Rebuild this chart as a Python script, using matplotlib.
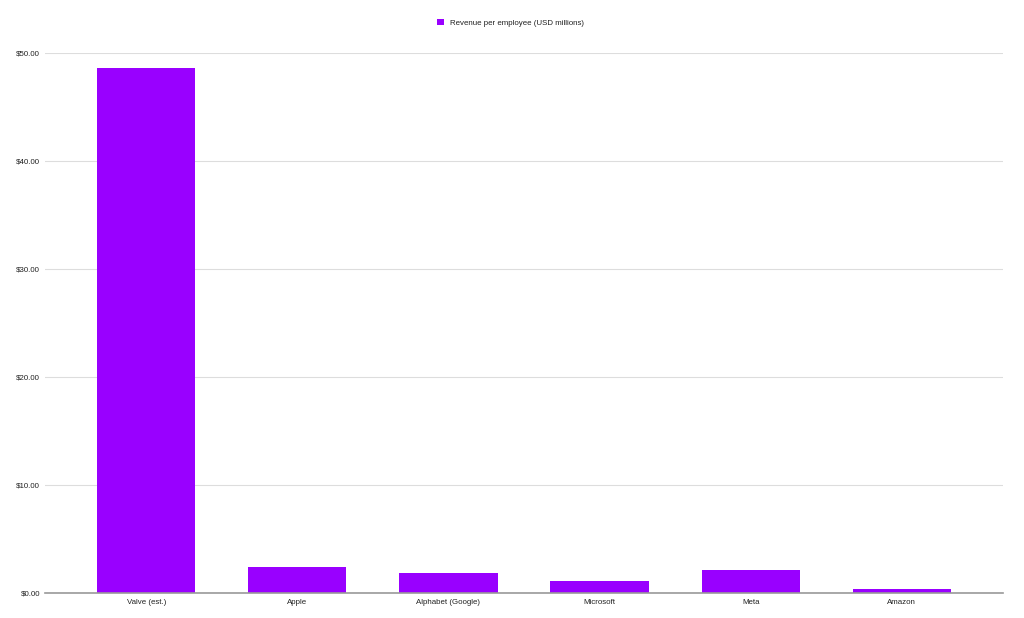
import matplotlib
matplotlib.use('Agg')
import matplotlib.pyplot as plt
from matplotlib.ticker import FuncFormatter

# dados
companies = ['Valve (est.)', 'Apple', 'Alphabet (Google)', 'Microsoft', 'Meta', 'Amazon']
revenue_per_employee = [48.6, 2.38, 1.88, 1.08, 2.16, 0.40]
series_name = 'Revenue per employee (USD millions)'
y_ticks = [0, 10, 20, 30, 40, 50]

plt.rcParams['font.family'] = ['Liberation Sans', 'DejaVu Sans']

fig = plt.figure(figsize=(10.24, 6.18), dpi=100)
ax = fig.add_axes([0.044, 0.0405, 0.9355, 0.8737])

x = range(len(companies))
ax.bar(x, revenue_per_employee, width=0.65, color='#9900ff', label=series_name, zorder=3)

ax.set_xlim(-0.67, len(companies) - 0.33)
ax.set_ylim(0, 50)
ax.set_yticks(y_ticks)
ax.yaxis.set_major_formatter(FuncFormatter(lambda v, p: '${:.2f}'.format(v)))
ax.set_xticks(list(x))
ax.set_xticklabels(companies)

ax.grid(axis='y', color='#dddddd', linewidth=0.8, zorder=0)
for s in ['top', 'right', 'left']:
    ax.spines[s].set_visible(False)
ax.spines['bottom'].set_color('#999999')
ax.spines['bottom'].set_linewidth(1.2)
ax.spines['bottom'].set_zorder(4)

ax.tick_params(axis='both', length=0, labelsize=5.7, labelcolor='#222222')
ax.tick_params(axis='y', pad=3.5)
ax.tick_params(axis='x', pad=4)

fig.legend(loc='center', bbox_to_anchor=(0.4985, 0.963), frameon=False,
           fontsize=5.7, handlelength=0.9, handleheight=0.9, handletextpad=0.7,
           labelcolor='#222222')

fig.savefig('out.png', dpi=100)
